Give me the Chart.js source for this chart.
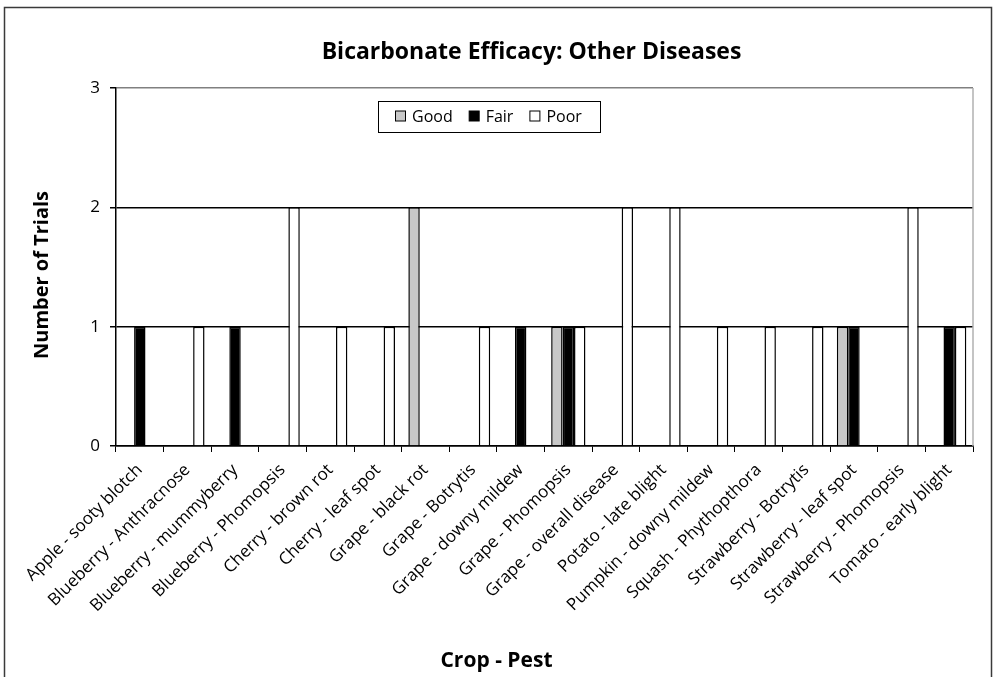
<!DOCTYPE html>
<html>
<head>
<meta charset="utf-8">
<script src="https://cdn.jsdelivr.net/npm/chart.js@4/dist/chart.umd.min.js"></script>
<style>
  html, body { margin: 0; padding: 0; background: #fff; }
  #wrap { width: 994px; height: 677px; position: relative; }
</style>
</head>
<body>
<div id="wrap"><canvas id="c" width="994" height="677"></canvas></div>
<script>
const chartTitle = 'Bicarbonate Efficacy: Other Diseases';
const xTitle = 'Crop - Pest';
const yTitle = 'Number of Trials';
const categories = [
  'Apple - sooty blotch', 'Blueberry - Anthracnose', 'Blueberry - mummyberry',
  'Blueberry - Phomopsis', 'Cherry - brown rot', 'Cherry - leaf spot',
  'Grape - black rot', 'Grape - Botrytis', 'Grape - downy mildew',
  'Grape - Phomopsis', 'Grape - overall disease', 'Potato - late blight',
  'Pumpkin - downy mildew', 'Squash - Phythopthora', 'Strawberry - Botrytis',
  'Strawberry - leaf spot', 'Strawberry - Phomopsis', 'Tomato - early blight'
];
const seriesNames = ['Good', 'Fair', 'Poor'];
const goodValues = [0,0,0,0,0,0,2,0,0,1,0,0,0,0,0,1,0,0];
const fairValues = [1,0,1,0,0,0,0,0,1,1,0,0,0,0,0,1,0,1];
const poorValues = [0,1,0,2,1,1,0,1,0,1,2,2,1,1,1,0,2,1];
const yTicks = [0, 1, 2, 3];

const FONT = '"Open Sans", Lato, sans-serif';
const colors = ['#c8c8c8', '#000000', '#ffffff'];

const decor = {
  id: 'decor',
  beforeDraw(chart) {
    const ctx = chart.ctx;
    ctx.save();
    ctx.fillStyle = '#fff';
    ctx.fillRect(0, 0, chart.width, chart.height);
    ctx.restore();
  },
  afterDraw(chart) {
    const ctx = chart.ctx;
    const a = chart.chartArea;
    ctx.save();
    // outer frame
    ctx.strokeStyle = '#3a3a3a';
    ctx.lineWidth = 1.5;
    ctx.strokeRect(4.5, 7.5, 987, 700);
    // plot right border
    ctx.strokeStyle = '#b0b0b0';
    ctx.lineWidth = 1.5;
    ctx.beginPath();
    ctx.moveTo(a.right, a.top);
    ctx.lineTo(a.right, a.bottom);
    ctx.stroke();
    // titles
    ctx.fillStyle = '#000';
    ctx.textAlign = 'center';
    ctx.textBaseline = 'middle';
    ctx.font = 'bold 23px ' + FONT;
    ctx.fillText(chartTitle, a.left + (a.right - a.left) / 2 - 13, 52);
    ctx.font = 'bold 21px ' + FONT;
    ctx.fillText(xTitle, a.left + (a.right - a.left) / 2 - 48, 661);
    ctx.font = 'bold 20px ' + FONT;
    ctx.save();
    ctx.translate(42, a.top + (a.bottom - a.top) / 2 + 8);
    ctx.rotate(-Math.PI / 2);
    ctx.fillText(yTitle, 0, 0);
    ctx.restore();
    // legend
    const lx = a.left + 262, ly = a.top + 13, lw = 222, lh = 31;
    ctx.strokeStyle = '#000';
    ctx.lineWidth = 1;
    ctx.fillStyle = '#fff';
    ctx.fillRect(lx + 0.5, ly + 0.5, lw, lh);
    ctx.strokeRect(lx + 0.5, ly + 0.5, lw, lh);
    ctx.font = '16px ' + FONT;
    ctx.textAlign = 'left';
    let x = lx + 17;
    const cy = ly + lh / 2;
    chart.data.datasets.forEach((ds, i) => {
      ctx.fillStyle = ds.backgroundColor;
      ctx.fillRect(x + 0.5, cy - 5.5, 10, 10);
      ctx.strokeStyle = '#000';
      ctx.strokeRect(x + 0.5, cy - 5.5, 10, 10);
      ctx.fillStyle = '#000';
      ctx.fillText(ds.label, x + 17, cy + 1);
      x += 17 + ctx.measureText(ds.label).width + 16;
    });
    ctx.restore();
  }
};

new Chart(document.getElementById('c'), {
  type: 'bar',
  data: {
    labels: categories,
    datasets: seriesNames.map((name, i) => ({
      label: name,
      data: [goodValues, fairValues, poorValues][i],
      backgroundColor: colors[i],
      borderColor: '#000',
      borderWidth: 1.5,
      categoryPercentage: 0.72,
      barPercentage: 1.0
    }))
  },
  options: {
    responsive: false,
    animation: false,
    layout: { padding: { left: 76, top: 88, right: 21, bottom: 0 } },
    plugins: {
      legend: { display: false },
      title: { display: false },
      tooltip: { enabled: false }
    },
    scales: {
      x: {
        grid: { display: true, drawOnChartArea: false, drawTicks: true, tickLength: 6, tickColor: '#000', offset: true },
        border: { color: '#000', width: 1.5 },
        ticks: { color: '#000', font: { family: FONT, size: 17 }, minRotation: 45, maxRotation: 45, autoSkip: false, padding: 8 },
        afterFit(scale) { scale.height = 231; }
      },
      y: {
        min: 0, max: 3,
        afterBuildTicks(scale) { scale.ticks = yTicks.map(v => ({ value: v })); },
        grid: {
          color: ctx => (ctx.tick && ctx.tick.value === 3) ? '#808080' : '#000',
          lineWidth: 1.5,
          tickLength: 6,
          tickColor: '#000'
        },
        border: { color: '#000', width: 1.5 },
        ticks: { color: '#000', font: { family: FONT, size: 17 }, padding: 10 },
        afterFit(scale) { scale.width = 40; }
      }
    }
  },
  plugins: [decor]
});
</script>
</body>
</html>
